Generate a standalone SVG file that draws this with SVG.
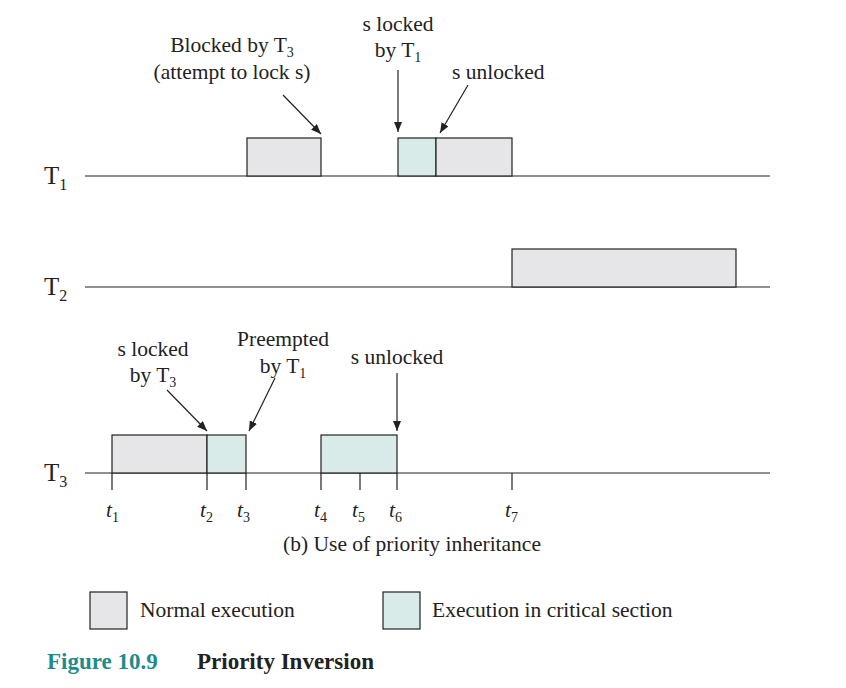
<svg xmlns="http://www.w3.org/2000/svg" width="846" height="688" viewBox="0 0 846 688">
<defs>
<marker id="ah" markerWidth="10" markerHeight="8" refX="10" refY="4" orient="auto" markerUnits="userSpaceOnUse"><path d="M0,0 L10,4 L0,8 z" fill="#222"/></marker>
<style>
text{font-family:"Liberation Serif",serif;font-size:21.5px;fill:#222}
.sub{font-size:14px}
.g{fill:#e6e6e8;stroke:#222;stroke-width:1.2}
.c{fill:#d8ebe8;stroke:#222;stroke-width:1.2}
.ln{stroke:#222;stroke-width:1.2;fill:none}
.ar{stroke:#222;stroke-width:1.2;fill:none;marker-end:url(#ah)}
.m{text-anchor:middle}
</style>
</defs>
<rect width="846" height="688" fill="#fff"/>
<g id="axes">
<line class="ln" x1="85" y1="176" x2="770" y2="176"/>
<line class="ln" x1="85" y1="287" x2="770" y2="287"/>
<line class="ln" x1="85" y1="473" x2="770" y2="473"/>
<text x="44" y="184" style="font-size:25px">T<tspan dy="6" style="font-size:16px">1</tspan></text>
<text x="44" y="295" style="font-size:25px">T<tspan dy="6" style="font-size:16px">2</tspan></text>
<text x="44" y="481" style="font-size:25px">T<tspan dy="6" style="font-size:16px">3</tspan></text>
</g>
<g id="t1-boxes">
<rect class="g" x="247" y="138" width="74" height="38"/>
<rect class="c" x="398" y="138" width="38" height="38"/>
<rect class="g" x="436" y="138" width="76" height="38"/>
</g>
<g id="t2-boxes"><rect class="g" x="512" y="249" width="224" height="38"/></g>
<g id="t3-boxes">
<rect class="g" x="112" y="435" width="95" height="38"/>
<rect class="c" x="207" y="435" width="39" height="38"/>
<rect class="c" x="321" y="435" width="76" height="38"/>
<line class="ln" x1="360" y1="473" x2="360" y2="490"/>
</g>
<g id="ticks">
<path class="ln" d="M112,473V490M207,473V490M246,473V490M321,473V490M397,473V490M512,473V490"/>
<text x="106" y="517" font-style="italic">t<tspan class="sub" dy="5" font-style="normal">1</tspan></text>
<text x="200" y="517" font-style="italic">t<tspan class="sub" dy="5" font-style="normal">2</tspan></text>
<text x="237" y="517" font-style="italic">t<tspan class="sub" dy="5" font-style="normal">3</tspan></text>
<text x="314" y="517" font-style="italic">t<tspan class="sub" dy="5" font-style="normal">4</tspan></text>
<text x="352" y="517" font-style="italic">t<tspan class="sub" dy="5" font-style="normal">5</tspan></text>
<text x="389" y="517" font-style="italic">t<tspan class="sub" dy="5" font-style="normal">6</tspan></text>
<text x="505" y="517" font-style="italic">t<tspan class="sub" dy="5" font-style="normal">7</tspan></text>
</g>
<g id="labels">
<text class="m" x="232" y="52">Blocked by T<tspan class="sub" dy="5">3</tspan></text>
<text class="m" x="232" y="79">(attempt to lock s)</text>
<text class="m" x="398" y="31">s locked</text>
<text class="m" x="398" y="57">by T<tspan class="sub" dy="5">1</tspan></text>
<text x="452" y="79">s unlocked</text>
<text class="m" x="153" y="356">s locked</text>
<text class="m" x="153" y="382">by T<tspan class="sub" dy="5">3</tspan></text>
<text class="m" x="283" y="346">Preempted</text>
<text class="m" x="283" y="373">by T<tspan class="sub" dy="5">1</tspan></text>
<text class="m" x="397" y="364">s unlocked</text>
<text class="m" x="412" y="551">(b) Use of priority inheritance</text>
</g>
<g id="connectors">
<line class="ar" x1="283" y1="95" x2="321" y2="134"/>
<line class="ar" x1="398" y1="70" x2="398" y2="132"/>
<line class="ar" x1="468" y1="85" x2="440" y2="133"/>
<line class="ar" x1="167" y1="390" x2="207" y2="431"/>
<line class="ar" x1="275" y1="378" x2="249" y2="431"/>
<line class="ar" x1="397" y1="373" x2="397" y2="431"/>
</g>
<g id="legend">
<rect class="g" x="90" y="592" width="37" height="37"/>
<text x="140" y="617">Normal execution</text>
<rect class="c" x="383" y="592" width="37" height="37"/>
<text x="432" y="617">Execution in critical section</text>
</g>
<g id="title">
<text x="47" y="669" style="font-weight:bold;fill:#1f8c8c;font-size:23px">Figure 10.9</text>
<text x="197" y="669" style="font-weight:bold;font-size:23px">Priority Inversion</text>
</g>
</svg>
